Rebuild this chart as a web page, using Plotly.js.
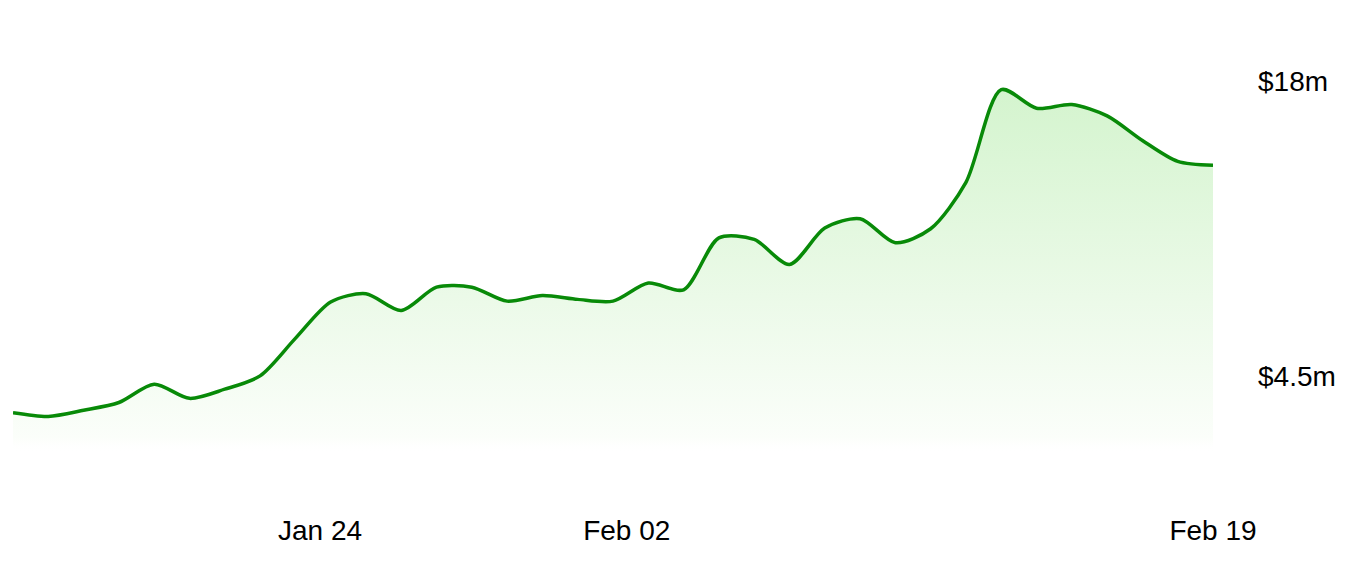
<!DOCTYPE html>
<html>
<head>
<meta charset="utf-8">
<script src="https://cdn.plot.ly/plotly-3.0.1.min.js"></script>
<style>html,body{margin:0;padding:0;background:#fff;}#chart{width:1360px;height:564px;}</style>
</head>
<body>
<div id="chart"></div>
<script>
// Daily dates, Jan 16 – Feb 19
const dates = [
  '2024-01-16','2024-01-17','2024-01-18','2024-01-19','2024-01-20','2024-01-21','2024-01-22',
  '2024-01-23','2024-01-24','2024-01-25','2024-01-26','2024-01-27','2024-01-28','2024-01-29',
  '2024-01-30','2024-01-31','2024-02-01','2024-02-02','2024-02-03','2024-02-04','2024-02-05',
  '2024-02-06','2024-02-07','2024-02-08','2024-02-09','2024-02-10','2024-02-11','2024-02-12',
  '2024-02-13','2024-02-14','2024-02-15','2024-02-16','2024-02-17','2024-02-18','2024-02-19'
];
// Values in millions of dollars
const values = [
  2.81, 2.64, 2.92, 3.28, 4.12, 3.47, 3.89,
  4.50, 6.22, 7.89, 8.27, 7.50, 8.57, 8.57,
  7.93, 8.19, 8.01, 7.93, 8.76, 8.45, 10.83,
  10.76, 9.61, 11.28, 11.71, 10.61, 11.25, 13.38,
  17.63, 16.78, 16.95, 16.43, 15.30, 14.34, 14.16
];
const yTickVals = [4.5, 18];
const yTickText = ['$4.5m', '$18m'];
const xTickVals = ['2024-01-24 16:48', '2024-02-02 09:20', '2024-02-19'];
const xTickText = ['Jan 24', 'Feb 02', 'Feb 19'];

const trace = {
  x: dates,
  y: values,
  type: 'scatter',
  mode: 'lines',
  line: {color: '#088a08', width: 3.5, shape: 'spline', smoothing: 0.8},
  fill: 'tozeroy',
  fillgradient: {
    type: 'vertical',
    start: 1.0,
    stop: 17.6,
    colorscale: [[0, 'rgba(255,255,255,0)'], [0.04, 'rgb(251,254,250)'], [1, 'rgb(212,244,206)']]
  },
  hoverinfo: 'skip'
};

const layout = {
  width: 1360,
  height: 564,
  margin: {l: 13, r: 147, t: 38, b: 90, pad: 0},
  paper_bgcolor: '#ffffff',
  plot_bgcolor: '#ffffff',
  showlegend: false,
  font: {family: '"Liberation Sans", Arial, Helvetica, sans-serif', size: 28, color: '#000'},
  xaxis: {
    type: 'date',
    range: ['2024-01-16', '2024-02-19'],
    showgrid: false, zeroline: false, showline: false,
    ticks: '', tickmode: 'array', tickvals: xTickVals, ticktext: xTickText,
    ticklabelstandoff: 37,
    tickfont: {size: 28}
  },
  yaxis: {
    side: 'right',
    range: [0, 20],
    showgrid: false, zeroline: false, showline: false,
    ticks: '', tickmode: 'array', tickvals: yTickVals, ticktext: yTickText,
    ticklabelstandoff: 44,
    tickfont: {size: 28}
  }
};

Plotly.newPlot('chart', [trace], layout, {displayModeBar: false, staticPlot: true});
</script>
</body>
</html>
